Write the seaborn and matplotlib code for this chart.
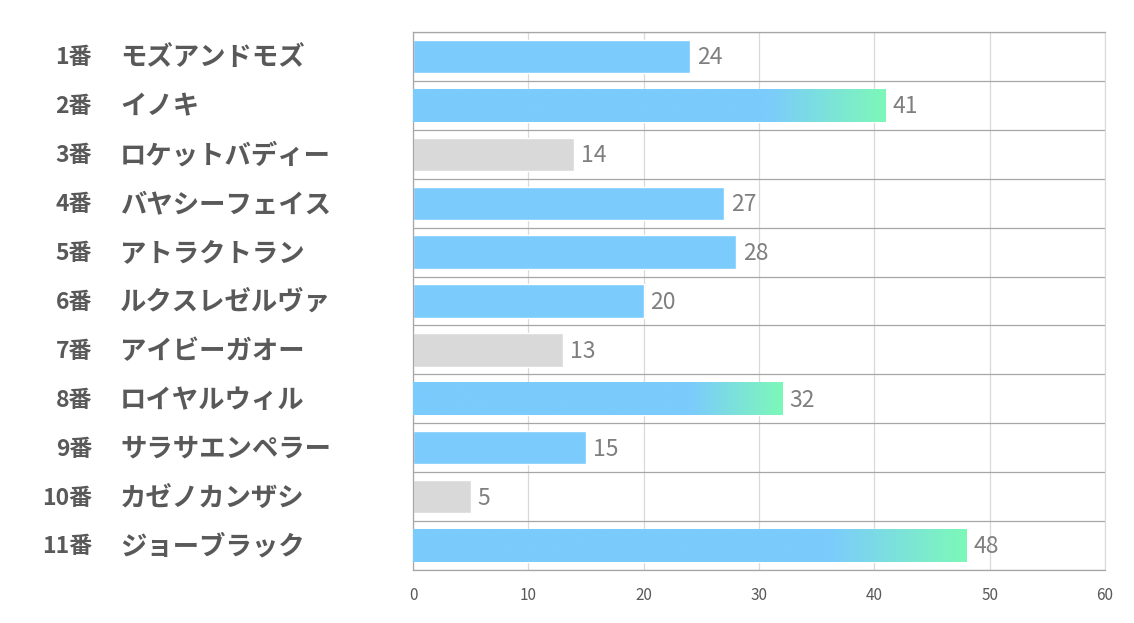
import numpy as np
import pandas as pd
import matplotlib
matplotlib.use("Agg")
import matplotlib.pyplot as plt
import seaborn as sns
from matplotlib.colors import LinearSegmentedColormap

# chart data
numbers = ["1番", "2番", "3番", "4番", "5番", "6番", "7番", "8番", "9番", "10番", "11番"]
names = ["モズアンドモズ", "イノキ", "ロケットバディー", "バヤシーフェイス", "アトラクトラン",
         "ルクスレゼルヴァ", "アイビーガオー", "ロイヤルウィル", "サラサエンペラー",
         "カゼノカンザシ", "ジョーブラック"]
values = [24, 41, 14, 27, 28, 20, 13, 32, 15, 5, 48]
kinds = ["blue", "grad", "gray", "blue", "blue", "blue", "gray", "grad", "blue", "gray", "grad"]
xticks = [0, 10, 20, 30, 40, 50, 60]

BLUE = "#7BCBFD"
GREEN = "#7DF8B9"
GRAY = "#D9D9D9"
TEXT = "#595959"

df = pd.DataFrame({"label": [n + m for n, m in zip(numbers, names)],
                   "value": values, "kind": kinds})

sns.set_style("white")
plt.rcParams["font.family"] = ["Noto Sans CJK JP", "DejaVu Sans"]

fig = plt.figure(figsize=(11.34, 6.23), dpi=100)
ax = fig.add_axes([0.3642, 0.0851, 0.6102, 0.8635])

palette = {"blue": BLUE, "grad": BLUE, "gray": GRAY}
sns.barplot(data=df, y="label", x="value", hue="kind", palette=palette,
            orient="h", width=0.68, dodge=False, legend=False, ax=ax,
            saturation=1, zorder=2)

ax.set_xlim(0, 60)
ax.set_ylim(len(values) - 0.5, -0.5)
ax.set_xticks(xticks)
ax.set_xticklabels([str(t) for t in xticks], color=TEXT, fontsize=11)
ax.tick_params(axis="x", length=0, pad=12)
ax.set_xlabel("")
ax.set_ylabel("")
ax.set_yticks(range(len(values)))
ax.set_yticklabels([])
ax.tick_params(axis="y", length=0)

# gridlines: light vertical, darker row separators
ax.xaxis.grid(True, color="#D9D9D9", linewidth=0.9, zorder=0)
ax.set_yticks(np.arange(-0.5, len(values), 1.0), minor=True)
ax.yaxis.grid(True, which="minor", color="#A6A6A6", linewidth=0.9, zorder=0)
ax.yaxis.grid(False, which="major")
ax.tick_params(axis="y", which="minor", length=0)
ax.set_axisbelow(True)
for side in ["left", "top", "bottom"]:
    ax.spines[side].set_visible(True)
    ax.spines[side].set_color("#A6A6A6")
    ax.spines[side].set_linewidth(0.9)
ax.spines["right"].set_visible(True)
ax.spines["right"].set_color("#D9D9D9")

# gradient overlay on highlighted bars (match patches to rows by y position)
cmap = LinearSegmentedColormap.from_list("bg", [BLUE, BLUE, GREEN], N=256)
grad = np.concatenate([np.zeros(128), np.linspace(0, 1, 128)])
grad = np.vstack([grad, grad])
for patch in list(ax.patches):
    w = patch.get_width()
    if w <= 0:
        continue
    row = int(round(patch.get_y() + patch.get_height() / 2))
    if kinds[row] != "grad":
        continue
    x0, y0, h = patch.get_x(), patch.get_y(), patch.get_height()
    im = ax.imshow(grad, cmap=cmap, aspect="auto", extent=[x0, x0 + w, y0 + h, y0],
                   zorder=3, interpolation="bicubic")
    im.set_clip_path(patch)
ax.set_xlim(0, 60)
ax.set_ylim(len(values) - 0.5, -0.5)

# value labels
for i, v in enumerate(values):
    ax.text(v + 0.6, i + 0.03, str(v), va="center", ha="left", fontsize=16.5,
            color="#7F7F7F", zorder=4)

# two-column row labels
trans = matplotlib.transforms.blended_transform_factory(fig.transFigure, ax.transData)
for i, (n, m) in enumerate(zip(numbers, names)):
    ax.text(92 / 1134, i + 0.03, n, ha="right", va="center", fontsize=16.5,
            fontweight="bold", color=TEXT, transform=trans, clip_on=False)
    ax.text(120 / 1134, i + 0.03, m, ha="left", va="center", fontsize=19,
            fontweight="bold", color=TEXT, transform=trans, clip_on=False)

fig.savefig("out.png", dpi=100, facecolor="white")
